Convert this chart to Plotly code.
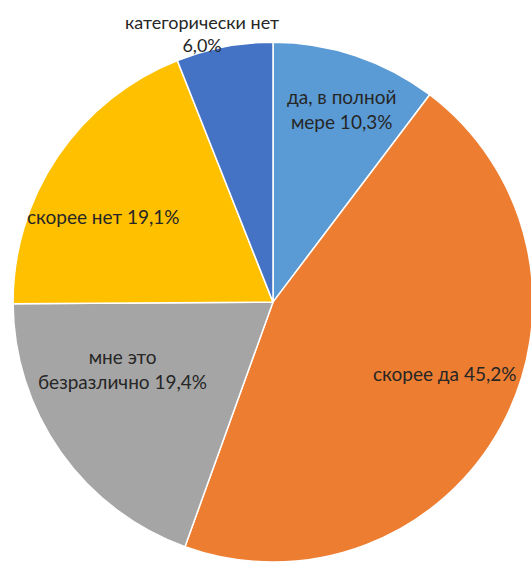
import plotly.graph_objects as go

# ---- data ----
labels = ["да, в полной мере", "скорее да", "мне это безразлично", "скорее нет", "категорически нет"]
values = [10.3, 45.2, 19.4, 19.1, 6.0]
value_texts = ["10,3%", "45,2%", "19,4%", "19,1%", "6,0%"]
colors = ["#5B9BD5", "#ED7D31", "#A5A5A5", "#FFC000", "#4472C4"]

# label text as shown (line breaks as in the picture)
label_lines = [
    "да, в полной<br>мере " + value_texts[0],
    "скорее да " + value_texts[1],
    "мне это<br>безразлично " + value_texts[2],
    "скорее нет " + value_texts[3],
    "категорически нет<br>" + value_texts[4],
]

# ---- layout ----
W, H = 546, 570
# label anchor positions in page pixels (layout only)
label_pos = [(341, 109), (445, 373), (122, 369), (103, 216), (202, 34)]
label_size = [19, 19, 19, 19, 18]

fig = go.Figure(go.Pie(
    labels=labels,
    values=values,
    textinfo="none",
    sort=False,
    direction="clockwise",
    rotation=0,
    marker=dict(colors=colors, line=dict(color="white", width=1.5)),
    domain=dict(x=[0.0, 1.0], y=[0.014, 0.926]),
    showlegend=False,
    hoverinfo="label+value",
))

for txt, (px, py), sz in zip(label_lines, label_pos, label_size):
    fig.add_annotation(
        text=txt, x=px / W, y=1 - py / H, xref="paper", yref="paper",
        xanchor="center", yanchor="middle", align="center", showarrow=False,
        font=dict(family="Lato", size=sz, color="#262626"),
    )

fig.update_layout(
    width=W,
    height=H,
    autosize=False,
    margin=dict(l=0, r=0, t=0, b=0, pad=0),
    paper_bgcolor="white",
    plot_bgcolor="white",
)

fig.write_html(
    "out.html",
    config={"displayModeBar": False},
    post_script="document.body.style.margin='0';document.body.style.overflow='hidden';"
                "document.documentElement.style.overflow='hidden';",
)
